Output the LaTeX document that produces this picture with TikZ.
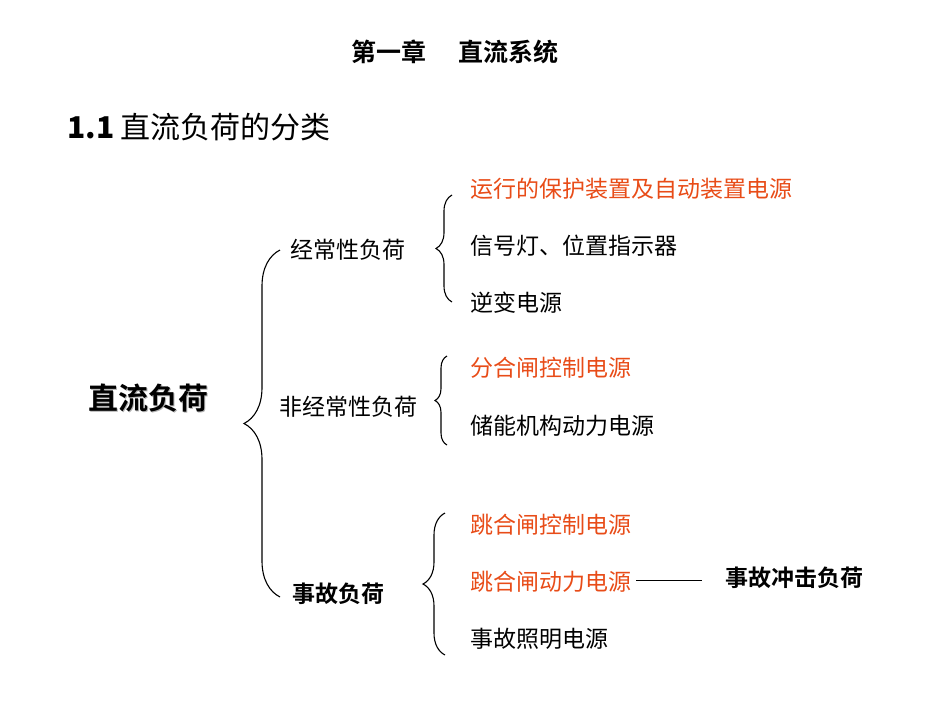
\documentclass[tikz,border=0pt]{standalone}
\usepackage{fontspec}
\setmainfont{Liberation Sans}
\newfontfamily\cjk{Noto Sans CJK SC}
\newfontfamily\cjkb{Noto Sans CJK SC Bold}
\usetikzlibrary{decorations.pathreplacing}
\definecolor{hot}{RGB}{232,76,24}
\tikzset{
  item/.style={anchor=west,inner sep=0pt,font=\cjk\fontsize{23}{23}\selectfont},
  hotitem/.style={item,text=hot},
  cat/.style={inner sep=0pt,font=\cjk\fontsize{23}{23}\selectfont},
  brc/.style={decorate,decoration={brace,amplitude=#1},line width=1.1pt},
}
\begin{document}
\begin{tikzpicture}[x=1pt,y=-1pt]
\useasboundingbox (0,0) rectangle (950,713);
\node[inner sep=0pt,font=\cjkb\fontsize{25}{25}\selectfont] (title) at (455,52) {第一章\hspace{1.3em}直流系统};
\node[anchor=west,inner sep=0pt,font=\cjk\fontsize{30}{30}\selectfont] (sec) at (67,127) {\textbf{1.1} 直流负荷的分类};
\node[inner sep=0pt,font=\cjkb\fontsize{30}{30}\selectfont,text=gray!60] at (149.5,399.5) {直流负荷};
\node[inner sep=0pt,font=\cjkb\fontsize{30}{30}\selectfont] (root) at (148,398) {直流负荷};
\draw[brc=36pt] (280,597) -- (280,250);
\node[cat] (c1) at (348,250) {经常性负荷};
\node[cat] (c2) at (348,407) {非经常性负荷};
\node[cat,font=\cjkb\fontsize{23}{23}\selectfont] (c3) at (338,594) {事故负荷};
\draw[brc=16pt] (452,302) -- (452,195);
\draw[brc=12pt] (447,445) -- (447,356);
\draw[brc=22pt] (445,655) -- (445,513);
\node[hotitem] (a1) at (470,189) {运行的保护装置及自动装置电源};
\node[item] (a2) at (470,246) {信号灯、位置指示器};
\node[item] (a3) at (470,303) {逆变电源};
\node[hotitem] (b1) at (470,368) {分合闸控制电源};
\node[item] (b2) at (470,426) {储能机构动力电源};
\node[hotitem] (d1) at (470,525) {跳合闸控制电源};
\node[hotitem] (d2) at (470,582) {跳合闸动力电源};
\node[item] (d3) at (470,639) {事故照明电源};
\node[anchor=west,inner sep=0pt,font=\cjkb\fontsize{23}{23}\selectfont] (imp) at (725,578) {事故冲击负荷};
\draw[line width=0.6pt] (d2.east)++(5,-2) -- ++(66,0);
\end{tikzpicture}
\end{document}
